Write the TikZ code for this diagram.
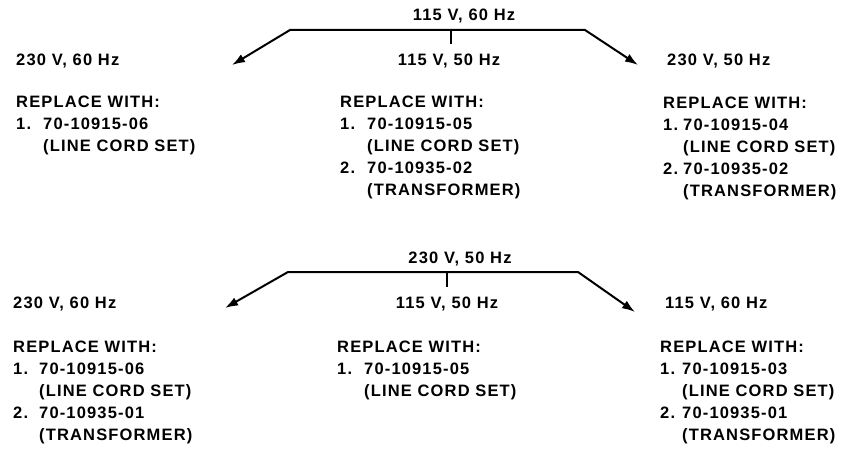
\documentclass[tikz,border=0pt]{standalone}
\usepackage{fontspec}
\setmainfont{Liberation Sans}[LetterSpace=7]
\usetikzlibrary{arrows.meta}
\newcommand\rw[2]{\makebox[#1][l]{#2}}
\begin{document}
\begin{tikzpicture}[x=1pt,y=-1pt,
  lab/.style={inner sep=0pt, font=\fontsize{16.5}{22}\selectfont\bfseries},
  wire/.style={line width=2pt},
  arr/.style={wire,-{Latex[length=13pt,width=9pt]}}]
\useasboundingbox[fill=white] (0,0) rectangle (859,449);
% ---- top group ----
\node[lab, anchor=base] (s1) at (464,21) {115 V, 60 Hz};
\coordinate (s1l) at (290,30);
\coordinate (s1r) at (585,30);
\coordinate (s1m) at (451,30);
\coordinate (s1t) at (451,44);
\coordinate (a1l) at (232,65);
\coordinate (a1r) at (638,65);
\draw[arr] (s1m) -- (s1l) -- (a1l);
\draw[arr] (s1m) -- (s1r) -- (a1r);
\draw[wire] (s1m) -- (s1t);
\node[lab, anchor=base west] (h1a) at (16,66) {230 V, 60 Hz};
\node[lab, anchor=base] (h1b) at (449,66) {115 V, 50 Hz};
\node[lab, anchor=base west] (h1c) at (667,66) {230 V, 50 Hz};
\node[lab, anchor=base west] (b1a) at (16,108) {\begin{tabular}[t]{@{}l@{}}REPLACE WITH:\\\rw{27pt}{1.}70-10915-06\\\hspace*{27pt}(LINE CORD SET)\end{tabular}};
\node[lab, anchor=base west] (b1b) at (340,108) {\begin{tabular}[t]{@{}l@{}}REPLACE WITH:\\\rw{27pt}{1.}70-10915-05\\\hspace*{27pt}(LINE CORD SET)\\\rw{27pt}{2.}70-10935-02\\\hspace*{27pt}(TRANSFORMER)\end{tabular}};
\node[lab, anchor=base west] (b1c) at (663,109) {\begin{tabular}[t]{@{}l@{}}REPLACE WITH:\\\rw{20pt}{1.}70-10915-04\\\hspace*{20pt}(LINE CORD SET)\\\rw{20pt}{2.}70-10935-02\\\hspace*{20pt}(TRANSFORMER)\end{tabular}};
% ---- bottom group ----
\node[lab, anchor=base] (s2) at (460,263) {230 V, 50 Hz};
\coordinate (s2l) at (288,272);
\coordinate (s2r) at (578,272);
\coordinate (s2m) at (447,272);
\coordinate (s2t) at (447,287);
\coordinate (a2l) at (225,308);
\coordinate (a2r) at (635,312);
\draw[arr] (s2m) -- (s2l) -- (a2l);
\draw[arr] (s2m) -- (s2r) -- (a2r);
\draw[wire] (s2m) -- (s2t);
\node[lab, anchor=base west] (h2a) at (13,308) {230 V, 60 Hz};
\node[lab, anchor=base] (h2b) at (447,308) {115 V, 50 Hz};
\node[lab, anchor=base west] (h2c) at (665,308) {115 V, 60 Hz};
\node[lab, anchor=base west] (b2a) at (13,352) {\begin{tabular}[t]{@{}l@{}}REPLACE WITH:\\\rw{26pt}{1.}70-10915-06\\\hspace*{26pt}(LINE CORD SET)\\\rw{26pt}{2.}70-10935-01\\\hspace*{26pt}(TRANSFORMER)\end{tabular}};
\node[lab, anchor=base west] (b2b) at (337,352) {\begin{tabular}[t]{@{}l@{}}REPLACE WITH:\\\rw{27pt}{1.}70-10915-05\\\hspace*{27pt}(LINE CORD SET)\end{tabular}};
\node[lab, anchor=base west] (b2c) at (660,352) {\begin{tabular}[t]{@{}l@{}}REPLACE WITH:\\\rw{22pt}{1.}70-10915-03\\\hspace*{22pt}(LINE CORD SET)\\\rw{22pt}{2.}70-10935-01\\\hspace*{22pt}(TRANSFORMER)\end{tabular}};
\end{tikzpicture}
\end{document}
